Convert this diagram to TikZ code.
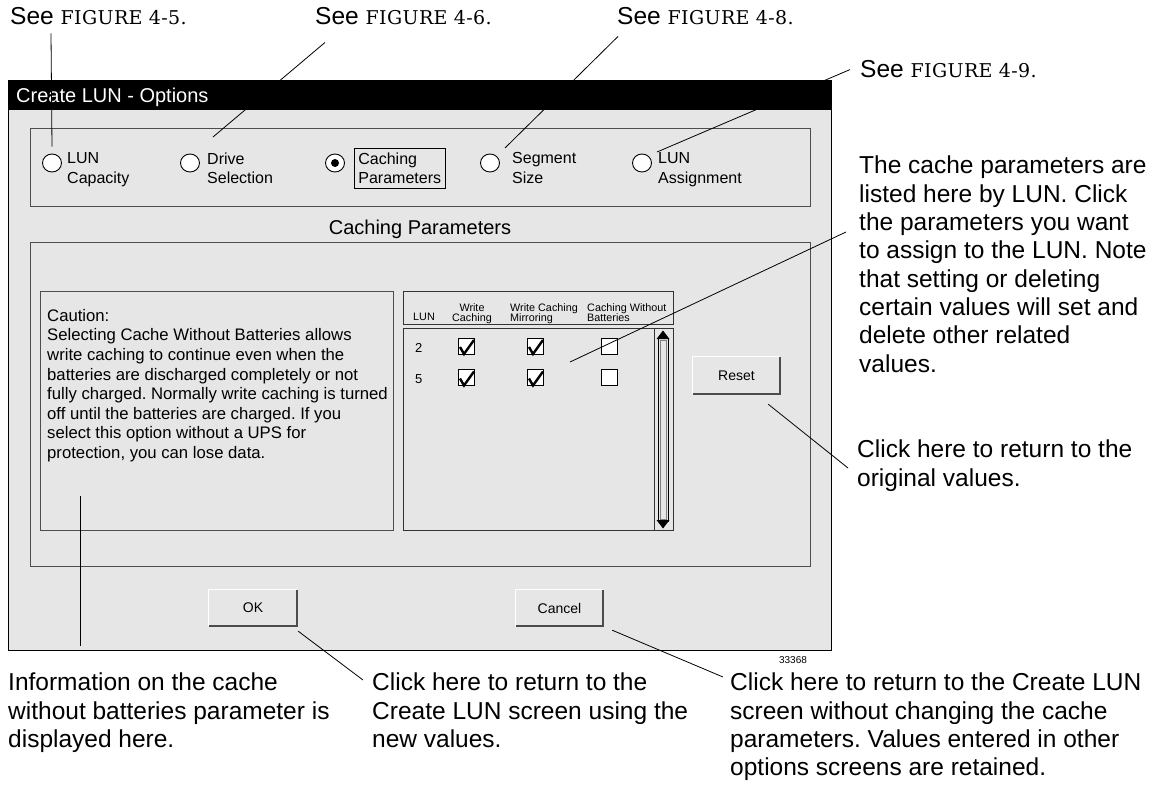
\documentclass[tikz,border=0pt]{standalone}
\usepackage{fontspec}
\setmainfont{Liberation Sans}
\newfontfamily\figserif[LetterSpace=2]{DejaVu Serif}
\usepackage{tikz}
\usetikzlibrary{shapes.geometric}
\frenchspacing

\definecolor{dlggray}{HTML}{E6E6E6}
\definecolor{edgegray}{HTML}{4D4D4D}
\newcommand{\seefig}[1]{See {\figserif\fontsize{19}{22}\selectfont FIGURE #1.}}

\tikzset{
  note/.style={font=\fontsize{24.5}{28.3}\selectfont, align=left, anchor=north west, inner sep=0pt},
  leader/.style={draw=black, line width=0.8pt},
  group/.style={draw=edgegray, line width=1pt, anchor=north west, inner sep=0pt},
  radio/.style={ellipse, draw=black, fill=white, line width=0.9pt, minimum width=19pt, minimum height=18pt, inner sep=0pt},
  opt/.style={font=\fontsize{16}{19.5}\selectfont, align=left, anchor=north west, inner sep=0pt},
  hdr/.style={font=\fontsize{10.8}{10.5}\selectfont, align=left, anchor=north west, inner sep=0pt},
  chk/.style={draw=black, fill=white, line width=0.8pt, minimum size=16pt, inner sep=0pt},
  btn/.style={fill=dlggray, font=\fontsize{14}{16}\selectfont, inner sep=0pt}
}

\begin{document}
\begin{tikzpicture}[x=1pt, y=-1pt]
\useasboundingbox[fill=white] (0,0) rectangle (1154,789);

\node[group, draw=black, line width=1.3pt, fill=dlggray, minimum width=823pt, minimum height=570pt] (dlg) at (8,80) {};
\node[anchor=north west, fill=black, minimum width=823pt, minimum height=30pt, inner sep=0pt] (bar) at (8,80) {};
\node[anchor=base west, text=white, font=\fontsize{20}{24}\selectfont, inner sep=0pt] (title) at (16,103) {Create LUN - Options};

\node[group, minimum width=780pt, minimum height=78pt] (opts) at (30,128) {};
\node[radio] (rcap) at (52,163) {};
\node[opt] (lcap) at (67,152.5) {LUN\\Capacity};
\node[radio] (rdrv) at (190,163) {};
\node[opt] (ldrv) at (207,152.5) {Drive\\Selection};
\node[radio] (rcch) at (335,163) {};
\node[circle, fill=black, minimum size=8pt, inner sep=0pt] (dot) at (rcch) {};
\node[opt, draw=black, line width=0.8pt, inner xsep=4pt, inner ysep=4.5pt] (lcch) at (354,148) {Caching\\Parameters};
\node[radio] (rseg) at (490,163) {};
\node[opt] (lseg) at (512,152.5) {Segment\\Size};
\node[radio] (rasg) at (642,163) {};
\node[opt] (lasg) at (658,152.5) {LUN\\Assignment};

\node[anchor=base, font=\fontsize{20}{24}\selectfont, inner sep=0pt] (cphead) at (420,234) {Caching Parameters};
\node[group, minimum width=780pt, minimum height=324pt] (params) at (30,242) {};

\node[group, minimum width=353pt, minimum height=239pt] (caution) at (40,291) {};
\node[anchor=north west, inner sep=0pt, align=left, font=\fontsize{16.7}{19.6}\selectfont] (cautxt) at (47,309) {Caution:\\Selecting Cache Without Batteries allows\\write caching to continue even when the\\batteries are discharged completely or not\\fully charged. Normally write caching is turned\\off until the batteries are charged. If you\\select this option without a UPS for\\protection, you can lose data.};

\node[group, draw=black!80, minimum width=270pt, minimum height=33pt] (thead) at (403,291) {};
\node[group, draw=black!80, minimum width=270pt, minimum height=202pt] (tbody) at (403,328) {};
\draw[black!80, line width=1pt] ([xshift=-20pt]tbody.north east) -- ([xshift=-20pt]tbody.south east);
\draw[line width=0.8pt] (658,338) rectangle (668,521);
\draw[black!50] (660,340) rectangle (666,519);
\fill (656.5,339) -- (663,330.5) -- (669.5,339) -- cycle;
\fill (656.5,520) -- (663,528.5) -- (669.5,520) -- cycle;

\node[hdr, anchor=base west] (hlun) at (413,320) {LUN};
\node[hdr, align=center, anchor=north] (hwc) at (472,303) {Write\\Caching};
\node[hdr] (hwm) at (510,303) {Write Caching\\Mirroring};
\node[hdr] (hcb) at (587,303) {Caching Without\\Batteries};

\node[font=\fontsize{13}{15}\selectfont, anchor=base west, inner sep=0pt] (n2) at (415,352) {2};
\node[font=\fontsize{13}{15}\selectfont, anchor=base west, inner sep=0pt] (n5) at (415,383) {5};
\foreach \r/\y in {2/346,5/377.5}
  \foreach \c/\x in {1/466,2/535,3/609}
    \node[chk] (b\r\c) at (\x,\y) {};
\foreach \b in {b21,b22,b51,b52}
  \draw[line width=2.4pt] ([shift={(-6,1)}]\b.center) -- ++(4,7) -- ++(10,-14);

\node[btn, minimum width=87pt, minimum height=37pt] (reset) at (736.5,375.5) {Reset};
\node[btn, minimum width=88pt, minimum height=36pt] (ok) at (253,608) {OK};
\node[btn, minimum width=87pt, minimum height=36pt] (cancel) at (559.5,608) {Cancel};
\foreach \b in {reset,ok,cancel} {
  \draw[white, line width=1.2pt] (\b.south west) -- (\b.north west) -- (\b.north east);
  \draw[black!70, line width=1.6pt] (\b.north east) -- (\b.south east) -- (\b.south west);
}
\node[font=\fontsize{10}{12}\selectfont, inner sep=0pt] (figid) at (793,660) {33368};

\node[note, anchor=base west] (see45) at (10,25) {\seefig{4-5}};
\node[note, anchor=base west] (see46) at (315,25) {\seefig{4-6}};
\node[note, anchor=base west] (see48) at (617,25) {\seefig{4-8}};
\node[note, anchor=base west] (see49) at (860,78) {\seefig{4-9}};
\node[note] (cachenote) at (859,156) {The cache parameters are\\listed here by LUN. Click\\the parameters you want\\to assign to the LUN. Note\\that setting or deleting\\certain values will set and\\delete other related\\values.};
\node[note] (resetnote) at (857,440) {Click here to return to the\\original values.};
\node[note] (infonote) at (8,673) {Information on the cache\\without batteries parameter is\\displayed here.};
\node[note] (oknote) at (372,673) {Click here to return to the\\Create LUN screen using the\\new values.};
\node[note] (cancelnote) at (730,673) {Click here to return to the Create LUN\\screen without changing the cache\\parameters. Values entered in other\\options screens are retained.};

\draw[leader] ([shift={(41,8)}]see45.south west) -- ([yshift=7pt]rcap.north);
\draw[leader] ([shift={(10,17)}]see46.south west) -- ([shift={(6,-15.5)}]ldrv.north west);
\draw[leader] ([shift={(1,11)}]see48.south west) -- ([shift={(-7,-4.5)}]lseg.north west);
\draw[leader] ([xshift=-10pt]see49.west) -- ([shift={(-1,-0.5)}]lasg.north west);
\draw[leader] ([shift={(-13,76)}]cachenote.north west) -- ([shift={(35,16)}]b22.center);
\draw[leader] ([shift={(-9,28)}]resetnote.north west) -- ([shift={(-12,10)}]reset.south east);
\draw[leader] ([shift={(72,-27)}]infonote.north west) -- ([shift={(40,-35)}]caution.south west);
\draw[leader] ([shift={(-9,7)}]oknote.north west) -- ([shift={(1,5)}]ok.south east);
\draw[leader] ([shift={(-7,4)}]cancelnote.north west) -- ([shift={(9,4)}]cancel.south east);
\end{tikzpicture}
\end{document}
